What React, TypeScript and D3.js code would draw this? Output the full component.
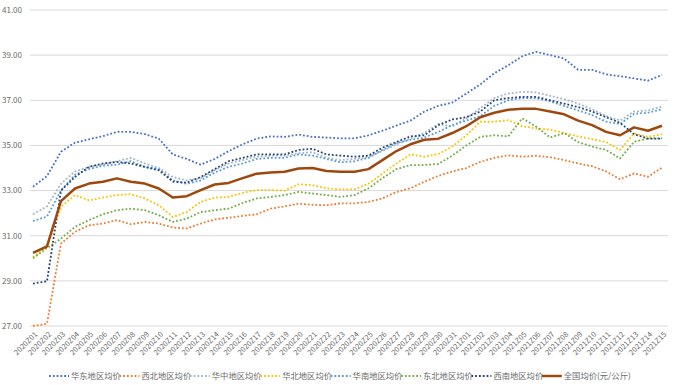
import React from "react";
import * as d3 from "d3";

const weeks2020 = d3.range(1, 32).map((n) => `2020Z${String(n).padStart(2, "0")}`);
const weeks2021 = d3.range(1, 16).map((n) => `2021Z${String(n).padStart(2, "0")}`);
const categories = [...weeks2020, ...weeks2021];

const yTicks = [27, 29, 31, 33, 35, 37, 39, 41];

const huadong = [33.17, 33.64, 34.72, 35.12, 35.27, 35.41, 35.6, 35.6, 35.5, 35.3, 34.6, 34.4, 34.15, 34.4, 34.75, 35.05, 35.3, 35.4, 35.38, 35.48, 35.38, 35.35, 35.31, 35.31, 35.45, 35.65, 35.88, 36.1, 36.5, 36.75, 36.9, 37.3, 37.7, 38.2, 38.55, 38.95, 39.15, 39.0, 38.85, 38.35, 38.35, 38.15, 38.07, 37.97, 37.87, 38.12];
const xibei = [27.0, 27.1, 30.65, 31.17, 31.46, 31.54, 31.69, 31.51, 31.61, 31.54, 31.36, 31.32, 31.54, 31.72, 31.8, 31.88, 31.95, 32.2, 32.3, 32.42, 32.37, 32.35, 32.43, 32.43, 32.5, 32.65, 32.94, 33.1, 33.39, 33.65, 33.85, 34.0, 34.27, 34.45, 34.56, 34.5, 34.54, 34.48, 34.35, 34.2, 34.08, 33.85, 33.5, 33.76, 33.61, 34.02];
const huazhong = [31.95, 32.3, 33.3, 33.85, 34.05, 34.15, 34.3, 34.45, 34.2, 34.0, 33.6, 33.45, 33.55, 33.9, 34.2, 34.35, 34.5, 34.55, 34.55, 34.65, 34.7, 34.45, 34.35, 34.4, 34.5, 34.75, 35.05, 35.3, 35.55, 35.95, 35.85, 36.2, 36.65, 37.1, 37.3, 37.38, 37.35, 37.2, 37.05, 36.85, 36.6, 36.3, 36.1, 36.5, 36.55, 36.72];
const huabei = [30.06, 30.5, 32.28, 32.8, 32.57, 32.69, 32.8, 32.84, 32.65, 32.35, 31.83, 32.05, 32.5, 32.69, 32.72, 32.9, 33.02, 33.02, 33.0, 33.28, 33.24, 33.1, 33.05, 33.05, 33.3, 33.75, 34.2, 34.6, 34.5, 34.62, 34.95, 35.45, 36.05, 36.05, 36.12, 35.85, 35.75, 35.7, 35.55, 35.4, 35.28, 35.15, 34.8, 35.53, 35.38, 35.5];
const huanan = [31.65, 31.85, 33.0, 33.7, 33.95, 34.1, 34.15, 34.3, 34.05, 33.95, 33.45, 33.3, 33.45, 33.8, 34.05, 34.2, 34.4, 34.45, 34.45, 34.6, 34.55, 34.4, 34.25, 34.3, 34.45, 34.8, 35.1, 35.25, 35.35, 35.6, 35.9, 36.1, 36.3, 36.75, 37.0, 37.1, 37.1, 36.95, 36.75, 36.55, 36.35, 36.05, 35.95, 36.4, 36.45, 36.6];
const dongbei = [30.0, 30.45, 30.87, 31.39, 31.69, 31.95, 32.13, 32.2, 32.13, 31.91, 31.61, 31.76, 32.05, 32.13, 32.2, 32.45, 32.65, 32.72, 32.8, 32.94, 32.87, 32.8, 32.72, 32.8, 33.1, 33.55, 33.95, 34.13, 34.13, 34.18, 34.55, 35.0, 35.38, 35.45, 35.4, 36.2, 35.83, 35.35, 35.55, 35.15, 34.95, 34.8, 34.42, 35.16, 35.31, 35.31];
const xinan = [28.88, 28.98, 33.0, 33.6, 34.05, 34.2, 34.27, 34.2, 34.05, 33.9, 33.4, 33.35, 33.6, 33.95, 34.3, 34.45, 34.6, 34.6, 34.6, 34.8, 34.85, 34.6, 34.55, 34.5, 34.55, 34.9, 35.15, 35.4, 35.45, 35.9, 36.15, 36.25, 36.5, 37.0, 37.1, 37.15, 37.15, 37.0, 36.85, 36.7, 36.5, 36.25, 36.0, 35.5, 35.3, 35.3];
const quanguo = [30.24, 30.53, 32.53, 33.09, 33.31, 33.39, 33.54, 33.39, 33.31, 33.09, 32.69, 32.75, 33.02, 33.27, 33.34, 33.55, 33.75, 33.8, 33.83, 33.98, 34.0, 33.87, 33.83, 33.83, 33.95, 34.35, 34.75, 35.05, 35.25, 35.3, 35.55, 35.85, 36.25, 36.45, 36.58, 36.62, 36.62, 36.5, 36.38, 36.1, 35.9, 35.6, 35.45, 35.8, 35.65, 35.87];

const seriesNames = ["华东地区均价", "西北地区均价", "华中地区均价", "华北地区均价", "华南地区均价", "东北地区均价", "西南地区均价", "全国均价(元/公斤)"];
const seriesValues = [huadong, xibei, huazhong, huabei, huanan, dongbei, xinan, quanguo];
const seriesColors = ["#4472C4", "#ED7D31", "#A3B5C9", "#FFC000", "#5B9BD5", "#70AD47", "#264478", "#9E480E"];

const W = 674;
const H = 385;
const FONT = "'Noto Sans CJK SC', 'Noto Sans', sans-serif";

export default function App() {
  const x = d3.scalePoint<string>().domain(categories).range([33, 662]);
  const y = d3.scaleLinear().domain([27, 41]).range([326, 10]);
  const line = d3
    .line<number>()
    .x((_, i) => x(categories[i]) as number)
    .y((d) => y(d));

  const legendX0 = 49;
  const legendStep = 70.4;
  const legendY = 376;

  return (
    <svg width={W} height={H} style={{ position: "absolute", left: 0, top: 0, background: "#fff" }} fontFamily={FONT}>
      <rect x={0} y={0} width={W} height={H} fill="#fff" />
      {yTicks.map((t) => (
        <g key={t}>
          <line x1={30} x2={668} y1={y(t)} y2={y(t)} stroke="#D9D9D9" strokeWidth={1} />
          <text x={22} y={y(t)} dy="0.35em" textAnchor="end" fontSize={8} fill="#6b6b6b">
            {t.toFixed(2)}
          </text>
        </g>
      ))}
      {categories.map((c) => {
        const cx = x(c) as number;
        return (
          <text
            key={c}
            transform={`translate(${cx + 3},${333}) rotate(-45)`}
            textAnchor="end"
            dy="0.35em"
            fontSize={7.5}
            fill="#6b6b6b"
          >
            {c}
          </text>
        );
      })}
      {seriesValues.map((vals, si) => {
        const isTotal = si === 7;
        return (
          <path
            key={si}
            d={line(vals) || ""}
            fill="none"
            stroke={seriesColors[si]}
            strokeWidth={isTotal ? 2.5 : 1.8}
            strokeDasharray={isTotal ? undefined : "1.8 2"}
            strokeLinejoin="round"
          />
        );
      })}
      {seriesNames.map((name, si) => {
        const lx = legendX0 + si * legendStep;
        const isTotal = si === 7;
        return (
          <g key={name}>
            <line
              x1={lx}
              x2={lx + 20}
              y1={legendY}
              y2={legendY}
              stroke={seriesColors[si]}
              strokeWidth={isTotal ? 2.5 : 1.8}
              strokeDasharray={isTotal ? undefined : "1.8 2"}
            />
            <text x={lx + 22} y={legendY} dy="0.35em" fontSize={8.3} fill="#6b6b6b">
              {name}
            </text>
          </g>
        );
      })}
    </svg>
  );
}
